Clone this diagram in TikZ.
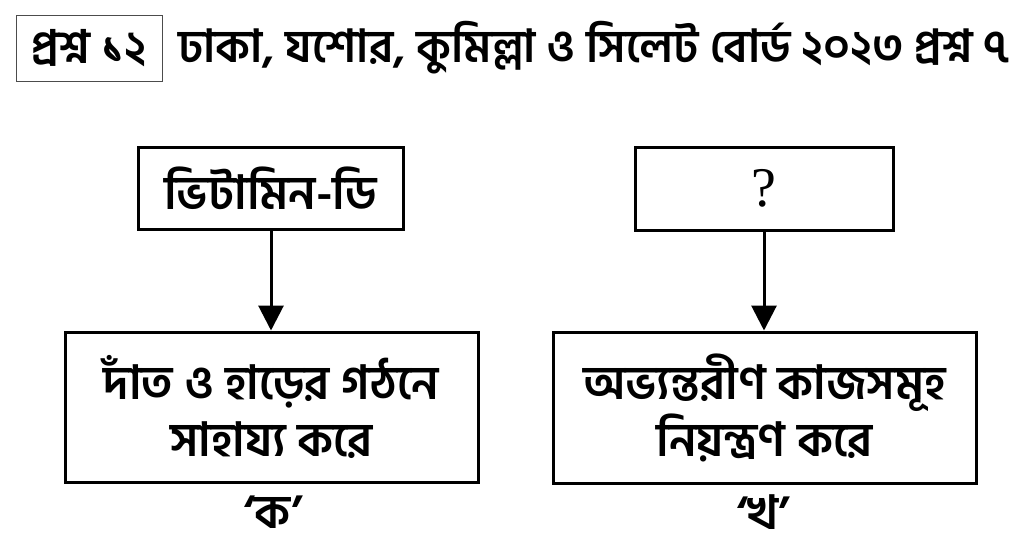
\documentclass[tikz,border=0pt]{standalone}
\usepackage{fontspec}
\newfontfamily\bn[Script=Bengali]{Hind Siliguri}
\newfontfamily\sr{Liberation Serif}
\usetikzlibrary{arrows.meta}
\tikzset{
  box/.style={draw=black,line width=3pt,inner sep=0pt,align=center,font=\bn\bfseries\fontsize{47}{57}\selectfont},
  tbox/.style={draw=black!70,line width=0.9pt,inner sep=0pt,font=\bn\bfseries\fontsize{46}{50}\selectfont},
  ttext/.style={inner sep=0pt,anchor=west,font=\bn\bfseries\fontsize{45.5}{50}\selectfont},
  lab/.style={inner sep=0pt,font=\bn\bfseries\fontsize{47}{52}\selectfont},
  arr/.style={line width=3pt,-{Triangle[length=25pt,width=25pt]}}
}
\begin{document}
\begin{tikzpicture}[x=1pt,y=-1pt]
\useasboundingbox[fill=white] (0,0) rectangle (1024,559);
\node[tbox,minimum width=146pt,minimum height=66pt] (q) at (89,48) {প্রশ্ন ১২};
\node[ttext] (title) at (178,48) {ঢাকা, যশোর, কুমিল্লা ও সিলেট বোর্ড ২০২৩ প্রশ্ন ৭};
\node[box,minimum width=265pt,minimum height=82pt] (a1) at (270.5,188) {ভিটামিন-ডি};
\node[box,minimum width=413pt,minimum height=150pt] (a2) at (271.5,407) {দাঁত ও হাড়ের গঠনে\\সাহায্য করে};
\node[box,minimum width=258pt,minimum height=83pt,font=\sr\fontsize{56}{60}\selectfont] (b1) at (764,188.5) {?};
\node[box,minimum width=423pt,minimum height=151pt] (b2) at (764.5,407.5) {অভ্যন্তরীণ কাজসমূহ\\নিয়ন্ত্রণ করে};
\node[lab] (la) at (273,512) {‘ক’};
\node[lab] (lb) at (763,512) {‘খ’};
\draw[arr] (a1.south -| 271,0) -- (a2.north -| 271,0);
\draw[arr] (b1.south) -- (b2.north -| b1.south);
\end{tikzpicture}
\end{document}
